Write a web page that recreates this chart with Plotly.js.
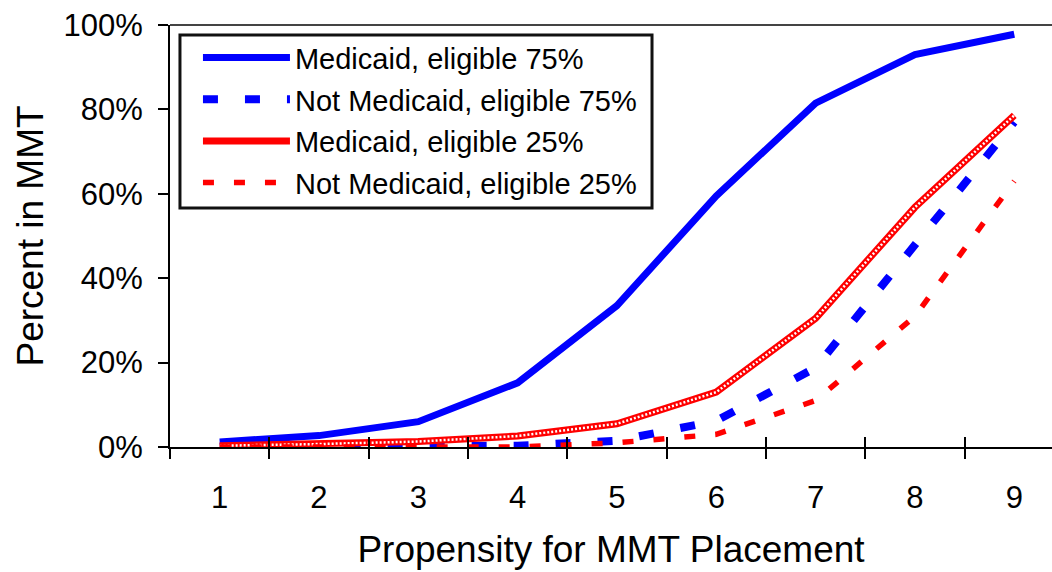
<!DOCTYPE html>
<html>
<head>
<meta charset="utf-8">
<script src="https://cdn.plot.ly/plotly-3.0.1.min.js"></script>
<style>html,body{margin:0;padding:0;background:#fff;}#chart{width:1052px;height:572px;}</style>
</head>
<body>
<div id="chart"></div>
<script>
const propensity = [1, 2, 3, 4, 5, 6, 7, 8, 9];
const tickLabels = ['1', '2', '3', '4', '5', '6', '7', '8', '9'];
const boundaries = [0.5, 1.5, 2.5, 3.5, 4.5, 5.5, 6.5, 7.5, 8.5, 9.5];
const medicaid75 = [1.2, 2.7, 6, 15.2, 33.5, 59.5, 81.5, 93, 97.8];
const notMedicaid75 = [0, 0, 0, 0.3, 1.5, 6.2, 18.8, 47.7, 77];
const medicaid25 = [0.3, 0.7, 1.3, 2.6, 5.5, 13, 30.5, 56.8, 78.6];
const notMedicaid25 = [0, 0, 0, 0, 1, 3, 11, 31, 63];
const seriesNames = ['Medicaid, eligible 75%', 'Not Medicaid, eligible 75%', 'Medicaid, eligible 25%', 'Not Medicaid, eligible 25%'];

const FONT = 'Liberation Sans, Arial, sans-serif';

const traces = [
  {x: propensity, y: medicaid75, name: seriesNames[0], mode: 'lines', legendgroup: 'a',
   line: {color: '#0000ff', width: 7}},
  {x: propensity, y: notMedicaid75, name: seriesNames[1], mode: 'lines', legendgroup: 'b',
   line: {color: '#0000ff', width: 8, dash: '15px,27px'}},
  {x: propensity, y: medicaid25, name: seriesNames[2], mode: 'lines', legendgroup: 'c',
   line: {color: '#ff0000', width: 7}},
  {x: propensity, y: medicaid25, name: seriesNames[2], mode: 'lines', legendgroup: 'c', showlegend: false,
   hoverinfo: 'skip', line: {color: '#ffffff', width: 2.5, dash: '2px,2px'}},
  {x: propensity, y: notMedicaid25, name: seriesNames[3], mode: 'lines', legendgroup: 'd',
   line: {color: '#ff0000', width: 5.5, dash: '11px,20px'}},
  {x: [], y: [], xaxis: 'x2', yaxis: 'y', showlegend: false, hoverinfo: 'skip'},
  {x: [], y: [], xaxis: 'x3', yaxis: 'y', showlegend: false, hoverinfo: 'skip'}
];

const xr = [0.5, 9.38];
const layout = {
  width: 1052, height: 572,
  margin: {l: 170, r: 0, t: 25, b: 125},
  paper_bgcolor: '#fff', plot_bgcolor: '#fff',
  font: {family: FONT, color: '#000', size: 29},
  showlegend: true,
  legend: {
    x: 0.0317, y: 0.983, xanchor: 'left', yanchor: 'top',
    bgcolor: 'rgba(0,0,0,0)', borderwidth: 0,
    font: {family: FONT, size: 29, color: '#000'},
    traceorder: 'grouped', tracegroupgap: 1, itemwidth: 87
  },
  xaxis: {
    range: xr, tickmode: 'array', tickvals: propensity, ticktext: tickLabels,
    ticks: '', showgrid: false, zeroline: false, showline: true, linecolor: '#000', linewidth: 2,
    tickfont: {family: FONT, size: 31}, ticklabelstandoff: 22,
    title: {text: 'Propensity for MMT Placement', font: {family: FONT, size: 37}, standoff: 22}
  },
  xaxis2: {
    overlaying: 'x', anchor: 'y', range: xr, tickmode: 'array', tickvals: boundaries, ticktext: boundaries.map(() => ''),
    ticks: 'outside', ticklen: 11, tickwidth: 2, tickcolor: '#000', showgrid: false, zeroline: false, showline: false
  },
  xaxis3: {
    overlaying: 'x', anchor: 'y', range: xr, tickmode: 'array', tickvals: boundaries, ticktext: boundaries.map(() => ''),
    ticks: 'inside', ticklen: 10, tickwidth: 2, tickcolor: '#000', showgrid: false, zeroline: false, showline: false
  },
  yaxis: {
    range: [0, 100], tickmode: 'linear', tick0: 0, dtick: 20, ticksuffix: '%',
    ticks: 'outside', ticklen: 10, tickwidth: 2, tickcolor: '#000',
    showgrid: false, zeroline: false, showline: true, linecolor: '#000', linewidth: 2,
    tickfont: {family: FONT, size: 31}, ticklabelstandoff: 9,
    title: {text: 'Percent in MMT', font: {family: FONT, size: 37}, standoff: 9}
  },
  shapes: [
    {type: 'line', xref: 'paper', yref: 'paper', x0: 0, x1: 1, y0: 1, y1: 1, line: {color: '#444', width: 2}},
    {type: 'rect', xref: 'paper', yref: 'paper', layer: 'above', x0: 0.0113, x1: 0.5465, y0: 0.5664, y1: 0.9763,
     fillcolor: '#fff', line: {color: '#111', width: 3}}
  ]
};

Plotly.newPlot('chart', traces, layout, {staticPlot: true, displayModeBar: false});
</script>
</body>
</html>
